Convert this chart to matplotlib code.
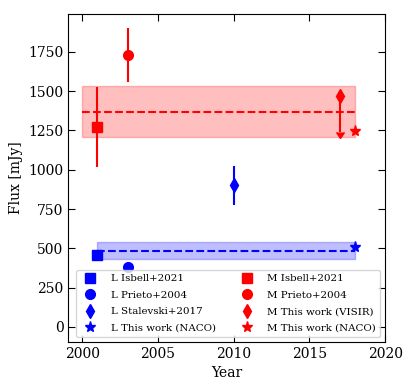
import numpy as np
import matplotlib; matplotlib.use("Agg")
import matplotlib.pyplot as plt

plt.rcParams["font.family"] = "DejaVu Serif"

# L band
L_labels = ["L Isbell+2021", "L Prieto+2004", "L Stalevski+2017", "L This work (NACO)"]
L_year = [2001, 2003, 2010, 2018]
L_flux = [460, 380, 900, 510]
L_err = [25, 30, 125, 10]
L_mean, L_lo, L_hi = 485, 430, 540

# M band
M_labels = ["M Isbell+2021", "M Prieto+2004", "M This work (VISIR)", "M This work (NACO)"]
M_year = [2001, 2003, 2017, 2018]
M_flux = [1270, 1730, 1470, 1245]
M_err = [255, 170, 230, 0]
M_uplim = [False, False, True, False]
M_mean, M_lo, M_hi = 1370, 1210, 1530

markers = ["s", "o", "d", "*"]

fig, ax = plt.subplots(figsize=(4.15, 3.92), dpi=100)

ax.fill_between([2000, 2018], M_lo, M_hi, color="red", alpha=0.25)
ax.hlines(M_mean, 2000, 2018, colors="red", linestyles="--", lw=1.5)
ax.fill_between([2001, 2018], L_lo, L_hi, color="blue", alpha=0.25)
ax.hlines(L_mean, 2001, 2018, colors="blue", linestyles="--", lw=1.5)

hl, hm = [], []
for i in range(4):
    h = ax.errorbar(L_year[i], L_flux[i], yerr=L_err[i], fmt=markers[i], color="blue",
                    ms=7 if markers[i] != "*" else 8, elinewidth=1.5, capsize=0)
    hl.append(h[0])
for i in range(4):
    h = ax.errorbar(M_year[i], M_flux[i], yerr=M_err[i] if M_err[i] else None, uplims=M_uplim[i],
                    fmt=markers[i], color="red", ms=7 if markers[i] != "*" else 8,
                    elinewidth=1.5, capsize=0)
    hm.append(h[0])

ax.set_xlim(1999.1, 2020)
ax.set_ylim(-95, 1990)
ax.set_xticks([2000, 2005, 2010, 2015, 2020])
ax.set_yticks([0, 250, 500, 750, 1000, 1250, 1500, 1750])
ax.tick_params(direction="in", top=True, right=True, length=5, labelsize=10)
ax.set_xlabel("Year", fontsize=10)
ax.set_ylabel("Flux [mJy]", fontsize=10)

leg = ax.legend(hl + hm, L_labels + M_labels, ncol=2, loc="lower right", fontsize=7.4,
                handletextpad=1.0, columnspacing=2.0, labelspacing=0.7)

fig.subplots_adjust(left=0.165, right=0.928, top=0.964, bottom=0.128)
fig.savefig("out.png", dpi=100)
